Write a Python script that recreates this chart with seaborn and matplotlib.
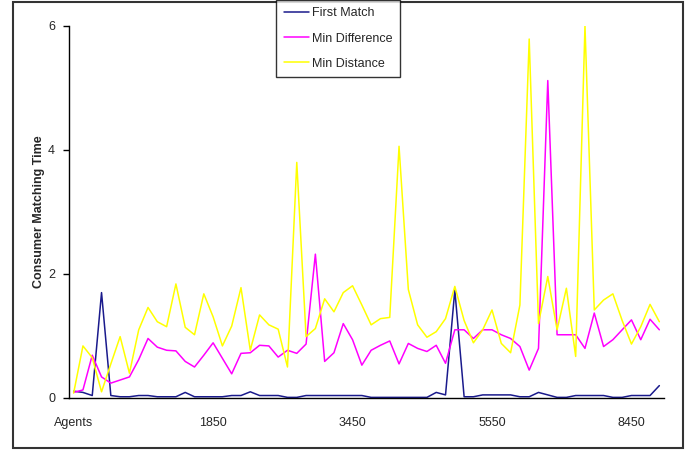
import numpy as np
import pandas as pd
import matplotlib
matplotlib.use('Agg')
import matplotlib.pyplot as plt
from matplotlib.patches import Rectangle
import seaborn as sns

# category labels shown on the x axis (every 15th category)
tick_labels = ['Agents', '1850', '3450', '5550', '8450']
label_step = 15

first_match = [0.11, 0.09, 0.04, 1.70, 0.04, 0.02, 0.02, 0.04, 0.04, 0.02,
               0.02, 0.02, 0.09, 0.02, 0.02, 0.02, 0.02, 0.04, 0.04, 0.10,
               0.04, 0.04, 0.04, 0.01, 0.01, 0.04, 0.04, 0.04, 0.04, 0.04,
               0.04, 0.04, 0.01, 0.01, 0.01, 0.01, 0.01, 0.01, 0.01, 0.09,
               0.05, 1.74, 0.02, 0.02, 0.05, 0.05, 0.05, 0.05, 0.02, 0.02,
               0.09, 0.05, 0.01, 0.01, 0.04, 0.04, 0.04, 0.04, 0.01, 0.01,
               0.04, 0.04, 0.04, 0.20]

min_difference = [0.09, 0.13, 0.69, 0.34, 0.24, 0.29, 0.34, 0.62, 0.96, 0.82,
                  0.77, 0.76, 0.59, 0.50, 0.69, 0.89, 0.64, 0.39, 0.72, 0.73,
                  0.85, 0.84, 0.66, 0.77, 0.72, 0.87, 2.32, 0.59, 0.73, 1.20,
                  0.94, 0.53, 0.77, 0.85, 0.92, 0.55, 0.88, 0.80, 0.75, 0.85,
                  0.56, 1.10, 1.10, 0.96, 1.10, 1.10, 1.02, 0.96, 0.83, 0.45,
                  0.80, 5.12, 1.02, 1.02, 1.02, 0.80, 1.37, 0.83, 0.94, 1.10,
                  1.26, 0.94, 1.27, 1.10]

min_distance = [0.08, 0.84, 0.65, 0.10, 0.55, 0.99, 0.40, 1.10, 1.46, 1.23,
                1.15, 1.84, 1.14, 1.02, 1.68, 1.31, 0.84, 1.16, 1.78, 0.77,
                1.34, 1.18, 1.11, 0.50, 3.80, 0.99, 1.12, 1.60, 1.39, 1.70,
                1.81, 1.50, 1.18, 1.28, 1.30, 4.06, 1.75, 1.18, 0.98, 1.07,
                1.28, 1.80, 1.25, 0.89, 1.10, 1.42, 0.88, 0.73, 1.50, 5.79,
                1.20, 1.96, 1.10, 1.77, 0.67, 6.00, 1.42, 1.58, 1.68, 1.25,
                0.87, 1.15, 1.51, 1.23]

series_names = ['First Match', 'Min Difference', 'Min Distance']
series_colors = ['#1a1a8c', '#FF00FF', '#FFFF00']

n = len(first_match)
frames = []
for name, vals in zip(series_names, [first_match, min_difference, min_distance]):
    frames.append(pd.DataFrame({'idx': np.arange(n), 'time': vals, 'series': name}))
df = pd.concat(frames, ignore_index=True)

sns.set_style('white')
plt.rcParams['font.family'] = ['Liberation Sans', 'DejaVu Sans']

fig = plt.figure(figsize=(6.99, 4.5), dpi=100)
ax = fig.add_axes([69 / 699, 1 - 398 / 450, (664 - 69) / 699, (398 - 26) / 450])

sns.lineplot(data=df, x='idx', y='time', hue='series', hue_order=series_names,
             palette=dict(zip(series_names, series_colors)), linewidth=1.1,
             ax=ax, legend=False)

ax.set_xlim(-0.5, n - 0.5)
ax.set_ylim(0, 6)
ax.set_yticks([0, 2, 4, 6])
ax.set_yticklabels(['0', '2', '4', '6'], fontsize=9)
ax.set_xticks(np.arange(len(tick_labels)) * label_step)
ax.set_xticklabels(tick_labels, fontsize=9)
ax.tick_params(axis='x', which='major', length=0, pad=14)
ax.set_xticks(np.arange(n + 1) - 0.5, minor=True)
ax.tick_params(axis='x', which='minor', direction='out', length=5, width=1, color='black')
ax.tick_params(axis='y', which='major', direction='out', length=4, width=1, color='black',
               left=True, pad=6)
ax.set_xlabel('')
ax.set_ylabel('Consumer Matching Time', fontsize=9, fontweight='bold', labelpad=2)

for side in ['top', 'right']:
    ax.spines[side].set_visible(False)
for side in ['left', 'bottom']:
    ax.spines[side].set_color('black')
    ax.spines[side].set_linewidth(1)

# outer chart border
fig.patches.append(Rectangle((13 / 699, 2 / 450), 670 / 699, 446 / 450,
                             transform=fig.transFigure, fill=False,
                             edgecolor='#333333', linewidth=1.5))

handles = [plt.Line2D([], [], color=c, lw=1.1) for c in series_colors]
leg = fig.legend(handles, series_names, loc='upper left',
                 bbox_to_anchor=(276 / 699, 1.0), fontsize=9, frameon=True,
                 fancybox=False, edgecolor='black', handlelength=2.0,
                 handletextpad=0.25, labelspacing=1.05, borderpad=0.6,
                 borderaxespad=0)
leg.get_frame().set_linewidth(1)

fig.savefig('out.png', dpi=100)
